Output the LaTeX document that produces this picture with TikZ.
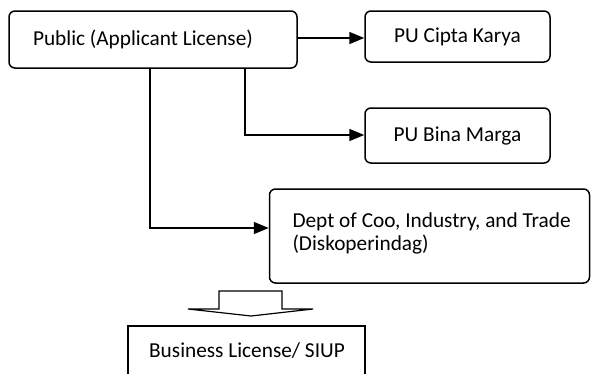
\documentclass[tikz,border=0pt]{standalone}
\usepackage{fontspec}
\setmainfont{Carlito}
\usetikzlibrary{arrows.meta}
\begin{document}
\begin{tikzpicture}[x=1pt,y=-1pt,
  every node/.style={font=\fontsize{21.3}{23}\selectfont},
  rbox/.style={draw,line width=1.5pt,rounded corners=6pt,inner sep=0pt},
  sbox/.style={draw,line width=1.3pt,inner sep=0pt},
  conn/.style={line width=1.5pt,-{Triangle[length=15pt,width=12pt]}}]
\useasboundingbox (0,0) rectangle (592,373);
\clip (0,0) rectangle (592,373);
\node[rbox,minimum width=288pt,minimum height=57pt,text width=240pt,align=flush left] (pub) at (153,39.5) {Public (Applicant License)};
\node[rbox,minimum width=185pt,minimum height=51pt] (cipta) at (457.5,36.5) {PU Cipta Karya};
\node[rbox,minimum width=185pt,minimum height=55pt] (bina) at (457.5,135.5) {PU Bina Marga};
\node[rbox,minimum width=320pt,minimum height=94pt,text width=274pt,align=flush left] (dept) at (429.5,236) {\mbox{Dept of Coo, Industry, and Trade}\\(Diskoperindag)\\[-15pt]\mbox{}};
\node[sbox,minimum width=237pt,minimum height=60pt] (biz) at (246.5,356) {};
\node (biztext) at (247,351) {Business License/ SIUP};
\draw[conn] ([yshift=1.5pt]pub.east) -- ([yshift=1.5pt]pub.east -| cipta.west);
\draw[conn] (pub.south -| 245,0) |- ([yshift=0.5pt]bina.west);
\draw[conn] (pub.south -| 150,0) |- ([yshift=8pt]dept.west);
\draw[line width=1.2pt] (219,291) -- (282,291) -- (282,309) -- (313,309) -- (251,316) -- (188,309) -- (219,309) -- cycle;
\end{tikzpicture}
\end{document}
